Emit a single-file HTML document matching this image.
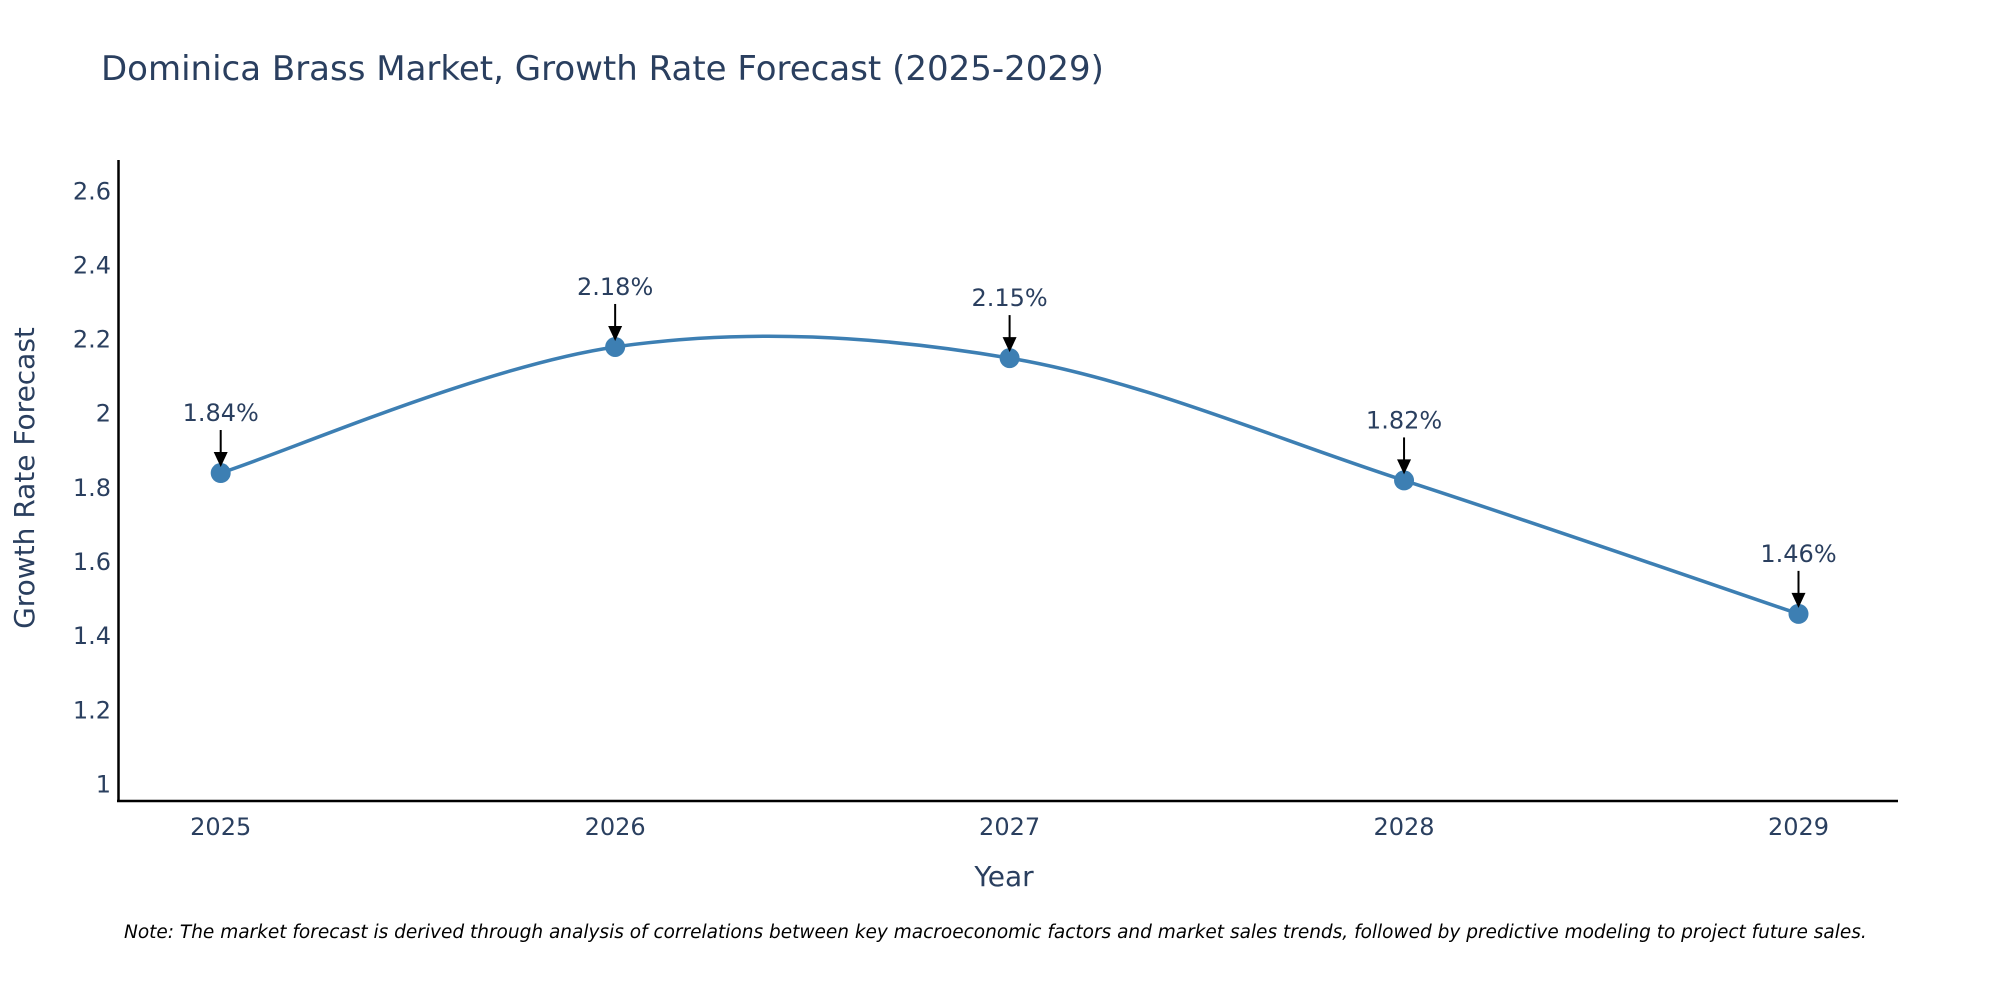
<!DOCTYPE html>
<html><head><meta charset="utf-8"><style>
body{margin:0;background:#fff;}
svg{display:block;font-family:"DejaVu Sans","Liberation Sans",sans-serif;}
</style></head><body>
<svg id="chart" width="2000" height="1000">
<text x="101" y="80" font-size="34" fill="#2a3f5f">Dominica Brass Market, Growth Rate Forecast (2025-2029)</text>
<g id="yticks"></g><g id="xticks"></g>
<line x1="118.5" y1="160" x2="118.5" y2="802" stroke="#000" stroke-width="2.5"/>
<line x1="117" y1="801" x2="1898" y2="801" stroke="#000" stroke-width="2.5"/>
<path id="line" fill="none" stroke="#3d7fb3" stroke-width="3.5"/>
<g id="pts"></g><g id="ann"></g>
<text x="1004" y="886" font-size="28" fill="#2a3f5f" text-anchor="middle">Year</text>
<text transform="translate(34,478) rotate(-90)" font-size="28" fill="#2a3f5f" text-anchor="middle">Growth Rate Forecast</text>
<text x="124" y="938" font-size="18.5" font-style="italic" fill="#000">Note: The market forecast is derived through analysis of correlations between key macroeconomic factors and market sales trends, followed by predictive modeling to project future sales.</text>
</svg>
<script>
const years=[2025,2026,2027,2028,2029];
const values=[1.84,2.18,2.15,1.82,1.46];
const labels=["1.84%","2.18%","2.15%","1.82%","1.46%"];
const yTicks=[1,1.2,1.4,1.6,1.8,2,2.2,2.4,2.6];
const yTickLabels=["1","1.2","1.4","1.6","1.8","2","2.2","2.4","2.6"];
const NS="http://www.w3.org/2000/svg";
function X(v){return 220.7+(v-2025)*394.45;}
function Y(v){return 784.4-(v-1)*370.7;}
function mk(t,a,p){const e=document.createElementNS(NS,t);for(const k in a)e.setAttribute(k,a[k]);(p||document.getElementById('chart')).appendChild(e);return e;}
const yt=document.getElementById('yticks');
yTicks.forEach((v,i)=>{const t=mk('text',{x:111,y:Y(v)+8,'font-size':24,fill:'#2a3f5f','text-anchor':'end'},yt);t.textContent=yTickLabels[i];

});
const xt=document.getElementById('xticks');
years.forEach(v=>{const t=mk('text',{x:X(v),y:835,'font-size':24,fill:'#2a3f5f','text-anchor':'middle'},xt);t.textContent=v;

});
const P=years.map((y,i)=>[X(y),Y(values[i])]);
let d='M'+P[0][0]+','+P[0][1];
for(let i=0;i<P.length-1;i++){const p0=P[i-1]||P[i],p1=P[i],p2=P[i+1],p3=P[i+2]||P[i+1];
const c1=[p1[0]+(p2[0]-p0[0])/6,p1[1]+(p2[1]-p0[1])/6],c2=[p2[0]-(p3[0]-p1[0])/6,p2[1]-(p3[1]-p1[1])/6];
d+=' C'+c1+' '+c2+' '+p2;}
document.getElementById('line').setAttribute('d',d);
const pg=document.getElementById('pts'),ag=document.getElementById('ann');
P.forEach((p,i)=>{const c=mk('circle',{cx:p[0],cy:p[1],r:10,fill:'#3d7fb3'},pg);


mk('line',{x1:p[0],y1:p[1]-43,x2:p[0],y2:p[1]-20,stroke:'#000','stroke-width':2},ag);
mk('polygon',{points:(p[0]-7)+','+(p[1]-21)+' '+(p[0]+7)+','+(p[1]-21)+' '+p[0]+','+(p[1]-6),fill:'#000'},ag);
const t=mk('text',{x:p[0],y:p[1]-52,'font-size':24,fill:'#2a3f5f','text-anchor':'middle'},ag);t.textContent=labels[i];

});
</script>
</body></html>
